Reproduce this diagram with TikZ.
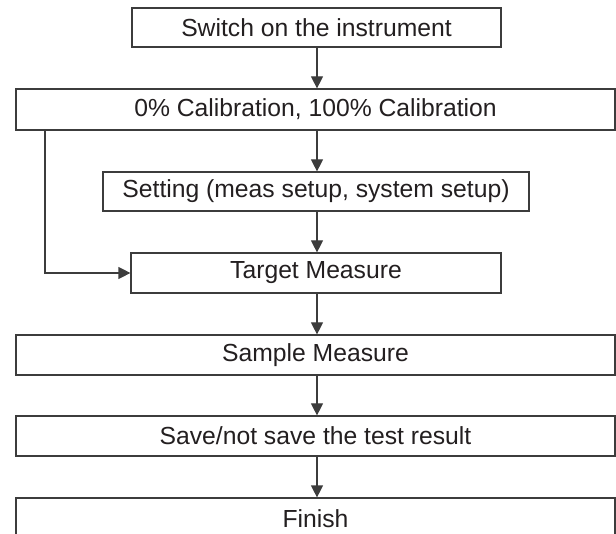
\documentclass[tikz,border=0pt]{standalone}
\usepackage{fontspec}
\setmainfont{Liberation Sans}
\usetikzlibrary{arrows.meta}
\definecolor{linec}{HTML}{3C3C3C}
\definecolor{textc}{HTML}{231F20}
\tikzset{
  stepbox/.style={draw=linec, line width=1.2pt, fill=white, inner sep=0pt,
    text=textc, font=\fontsize{24.7}{29}\selectfont},
  arr/.style={draw=linec, line width=1.2pt, -{Triangle[length=12pt,width=12pt]}}
}
\begin{document}
\begin{tikzpicture}[x=1pt,y=-1pt]
\useasboundingbox (0,0) rectangle (616,534);
\node[stepbox, minimum width=369pt, minimum height=39pt] (b1) at (316.5,27.5) {Switch on the instrument};
\node[stepbox, minimum width=599pt, minimum height=41pt] (b2) at (315.5,109.5) {0\% Calibration, 100\% Calibration};
\node[stepbox, minimum width=426pt, minimum height=39pt] (b3) at (316,191.5) {Setting (meas setup, system setup)};
\node[stepbox, minimum width=370pt, minimum height=40pt] (b4) at (316,273) {Target Measure};
\node[stepbox, minimum width=599pt, minimum height=40pt] (b5) at (315.5,355) {Sample Measure};
\node[stepbox, minimum width=599pt, minimum height=40pt] (b6) at (315.5,436) {Save/not save the test result};
\node[stepbox, minimum width=599pt, minimum height=42pt] (b7) at (315.5,519) {Finish};
\coordinate (sx) at (45,0);
\coordinate (ax) at (317,0);
\draw[arr] (b1.south -| ax) -- (b2.north -| ax);
\draw[arr] (b2.south -| ax) -- (b3.north -| ax);
\draw[arr] (b3.south -| ax) -- (b4.north -| ax);
\draw[arr] (b4.south -| ax) -- (b5.north -| ax);
\draw[arr] (b5.south -| ax) -- (b6.north -| ax);
\draw[arr] (b6.south -| ax) -- (b7.north -| ax);
\draw[arr] (b2.south -| sx) |- (b4.west);
\end{tikzpicture}
\end{document}
